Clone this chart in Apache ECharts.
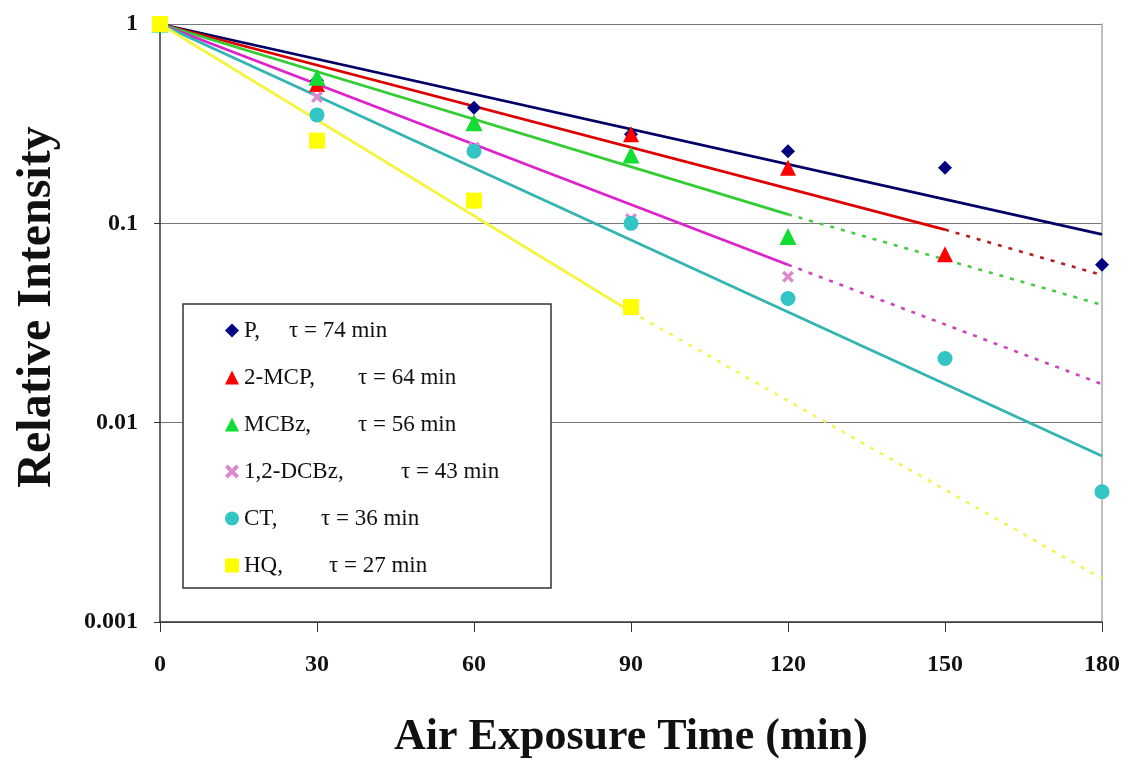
<!DOCTYPE html>
<html>
<head>
<meta charset="utf-8">
<script src="https://cdn.jsdelivr.net/npm/echarts@6/dist/echarts.min.js"></script>
<style>html,body{margin:0;padding:0;background:#fff}#c{width:1127px;height:762px}</style>
</head>
<body>
<div id="c"></div>
<script>
// ---- data ----
const times = [0, 30, 60, 90, 120, 150, 180];
const names = ['P', '2-MCP', 'MCBz', '1,2-DCBz', 'CT', 'HQ'];
const taus = [74, 64, 56, 43, 36, 27];
const valP    = [1, 0.52, 0.38, 0.28, 0.23, 0.19, 0.062];
const valMCP  = [1, 0.50, 0.32, 0.28, 0.19, 0.07, null];
const valMCBz = [1, 0.54, 0.32, 0.22, 0.086, null, null];
const valDCBz = [1, 0.43, 0.24, 0.105, 0.054, null, null];
const valCT   = [1, 0.35, 0.23, 0.10, 0.042, 0.021, 0.0045];
const valHQ   = [1, 0.26, 0.13, 0.038, null, null, null];
// fitted lines: solid from t=0 (value 1) to fitEndT; dotted extension to 180
const fitStartV = [1, 1, 1, 1, 1, 1];
const fitEndT = [180, 150, 120, 120, 180, 90];
const fitEndV = [0.088, 0.093, 0.111, 0.062, 0.0068, 0.036];
const extEndT = [null, 180, 180, 180, null, 180];
const extEndV = [null, 0.055, 0.039, 0.0156, null, 0.00165];
const xTicks = [0, 30, 60, 90, 120, 150, 180];
const yTicks = ['0.001', '0.01', '0.1', '1'];

// ---- styles ----
const markerColors = ['#000080', '#ff0000', '#11dd33', '#dd88cc', '#33c4c4', '#ffff00'];
const lineColors   = ['#000066', '#dd0000', '#33cc33', '#dd22cc', '#33b4b4', '#f4f444'];
const extColors    = [null, '#b02020', '#44cc44', '#cc44bb', null, '#f4f455'];
const xPath = 'path://M2,0L5,3L8,0L10,2L7,5L10,8L8,10L5,7L2,10L0,8L3,5L0,2Z';
const symbols = ['diamond', 'triangle', 'triangle', xPath, 'circle', 'rect'];
const symSizes = [14, 16, 17, 12, 15, 16];
const nameWidths = [45, 114, 114, 157, 77, 85];
const allVals = [valP, valMCP, valMCBz, valDCBz, valCT, valHQ];

const series = [];
names.forEach((n, i) => {
  series.push({
    type: 'line', name: n + ' fit', z: 2, silent: true, symbol: 'none',
    lineStyle: { color: lineColors[i], width: 2.8 },
    data: [[times[0], fitStartV[i]], [fitEndT[i], fitEndV[i]]]
  });
  if (extEndV[i] != null) {
    series.push({
      type: 'line', name: n + ' ext', z: 2, silent: true, symbol: 'none',
      lineStyle: { color: extColors[i], width: 2.6, type: [4, 7] },
      data: [[fitEndT[i], fitEndV[i]], [extEndT[i], extEndV[i]]]
    });
  }
});
names.forEach((n, i) => {
  series.push({
    type: 'scatter', name: n, z: 5,
    symbol: symbols[i], symbolSize: symSizes[i],
    itemStyle: { color: markerColors[i], opacity: 1 },
    data: times.map((t, k) => [t, allVals[i][k]]).filter(d => d[1] != null)
  });
});

const legFont = { fontFamily: 'Liberation Serif', fontSize: 23, color: '#111', lineHeight: 22 };
const rich = { t: Object.assign({ width: 150 }, legFont) };
nameWidths.forEach((w, i) => { rich['n' + i] = Object.assign({ width: w }, legFont); });

const labelFont = { fontFamily: 'Liberation Serif', fontWeight: 'bold', fontSize: 24, color: '#111' };

const chart = echarts.init(document.getElementById('c'), null, { renderer: 'canvas' });
chart.setOption({
  backgroundColor: '#fff',
  animation: false,
  grid: { left: 160, right: 25, top: 24, bottom: 140, containLabel: false, outerBoundsMode: 'none' },
  xAxis: {
    type: 'value', min: 0, max: 180, interval: 30,
    name: 'Air Exposure Time (min)', nameLocation: 'middle', nameGap: 94,
    nameTextStyle: { fontFamily: 'Liberation Serif', fontWeight: 'bold', fontSize: 44, color: '#111' },
    axisLine: { show: true, lineStyle: { color: '#333', width: 1.5 } },
    axisTick: { show: true, inside: false, length: 10, lineStyle: { color: '#333' } },
    axisLabel: Object.assign({ margin: 31, formatter: v => String(xTicks[xTicks.indexOf(v)]) }, labelFont),
    splitLine: { show: false }
  },
  yAxis: [{
    type: 'log', logBase: 10, min: 0.001, max: 1,
    name: 'Relative Intensity', nameLocation: 'middle', nameGap: 98, nameRotate: 90,
    nameTextStyle: { fontFamily: 'Liberation Serif', fontWeight: 'bold', fontSize: 48, color: '#111', padding: [0, 0, 0, 32] },
    axisLine: { show: true, lineStyle: { color: '#333', width: 1.5 } },
    axisTick: { show: true, inside: false, length: 6, lineStyle: { color: '#333' } },
    axisLabel: Object.assign({ margin: 22, formatter: v => yTicks[Math.round(Math.log10(v)) + 3] }, labelFont),
    splitLine: { show: true, lineStyle: { color: '#777', width: 1.2 } }
  }, {
    type: 'log', logBase: 10, min: 0.001, max: 1, position: 'right',
    axisLine: { show: true, lineStyle: { color: '#aaa', width: 1.5 } },
    axisTick: { show: false }, axisLabel: { show: false }, splitLine: { show: false }
  }],
  legend: {
    orient: 'vertical', left: 183, top: 304,
    data: names,
    padding: [15, 0, 11, 42],
    itemGap: 24, itemWidth: 14, itemHeight: 14, itemTextGap: 12,
    borderColor: '#333', borderWidth: 1.5, backgroundColor: '#fff',
    formatter: name => { const i = names.indexOf(name); return '{n' + i + '|' + name + ',}{t|τ = ' + taus[i] + ' min}'; },
    textStyle: { rich: rich, fontFamily: 'Liberation Serif', fontSize: 23 }
  },
  series: series
});
</script>
</body>
</html>
